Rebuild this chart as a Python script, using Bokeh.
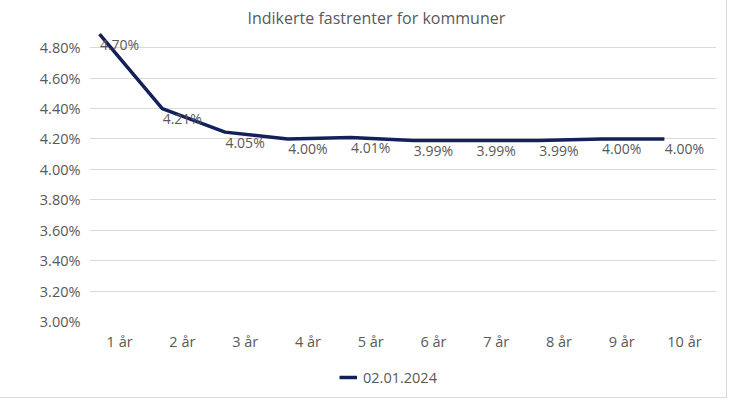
from bokeh.plotting import figure
from bokeh.models import (ColumnDataSource, FixedTicker, NumeralTickFormatter, Range1d,
                          Legend, LegendItem)
from bokeh.layouts import column
from bokeh.embed import file_html
from bokeh.resources import INLINE
from bokeh.core.properties import value

# Data
categories = ["1 år", "2 år", "3 år", "4 år", "5 år", "6 år", "7 år", "8 år", "9 år", "10 år"]
line_values = [4.89, 4.40, 4.245, 4.20, 4.21, 4.19, 4.19, 4.19, 4.20, 4.20]
label_texts = ["4.70%", "4.21%", "4.05%", "4.00%", "4.01%", "3.99%", "3.99%", "3.99%", "4.00%", "4.00%"]
y_ticks = [3.0, 3.2, 3.4, 3.6, 3.8, 4.0, 4.2, 4.4, 4.6, 4.8]
series_name = "02.01.2024"
title_text = "Indikerte fastrenter for kommuner"

FONT = "Open Sans"
GREY = "#595959"
NAVY = "#14205a"

xs = list(range(1, len(categories) + 1))
src = ColumnDataSource(dict(x=xs, y=[v / 100 for v in line_values], lab=label_texts))

p = figure(width=726, height=359, output_backend="svg", toolbar_location=None,
           x_range=Range1d(0.84, 10.83), y_range=Range1d(0.030, 0.049),
           min_border_left=89, min_border_right=10, min_border_top=24, min_border_bottom=38)

p.title.text = title_text
p.title.align = "left"
p.title.offset = 158
p.title.standoff = 8
p.title.text_font = FONT
p.title.text_font_size = "16px"
p.title.text_font_style = "normal"
p.title.text_color = GREY

r = p.line("x", "y", source=src, line_color=NAVY, line_width=3.5)
p.text("x", "y", text="lab", source=src, x_offset=20, y_offset=10,
       text_align="center", text_baseline="middle", text_font=value(FONT),
       text_font_size="14px", text_color=GREY)

p.xaxis.ticker = FixedTicker(ticks=[x + 0.32 for x in xs])
p.xaxis.major_label_overrides = {x + 0.32: c for x, c in zip(xs, categories)}
p.yaxis.ticker = FixedTicker(ticks=[t / 100 for t in y_ticks])
p.yaxis.formatter = NumeralTickFormatter(format="0.00%")

for ax in (p.xaxis, p.yaxis):
    ax.axis_line_color = None
    ax.major_tick_line_color = None
    ax.minor_tick_line_color = None
    ax.major_label_text_font = FONT
    ax.major_label_text_font_size = "14.5px"
    ax.major_label_text_color = GREY
p.xaxis.major_label_standoff = 4
p.yaxis.major_label_standoff = 3

p.xgrid.grid_line_color = None
p.ygrid.grid_line_color = "#d9d9d9"
p.ygrid.grid_line_width = 1
p.outline_line_color = None

# Separate strip for the legend below the chart
lg = figure(width=726, height=38, output_backend="svg", toolbar_location=None,
            x_range=Range1d(100, 101), y_range=Range1d(100, 101),
            min_border=0)
lg.axis.visible = False
lg.grid.visible = False
lg.outline_line_color = None
r2 = lg.line("x", "y", source=src, line_color=NAVY, line_width=3.5)
legend = Legend(items=[LegendItem(label=series_name, renderers=[r2])],
                orientation="horizontal", location=(250, 10),
                label_text_font=FONT, label_text_font_size="14.5px", label_text_color=GREY,
                border_line_color=None, background_fill_alpha=0,
                glyph_width=18, label_standoff=6, padding=4, margin=0)
lg.add_layout(legend)

layout = column(p, lg, spacing=0)
layout.styles = {"outline": "1px solid #d9d9d9"}
open("out.html", "w").write(file_html(layout, INLINE))
